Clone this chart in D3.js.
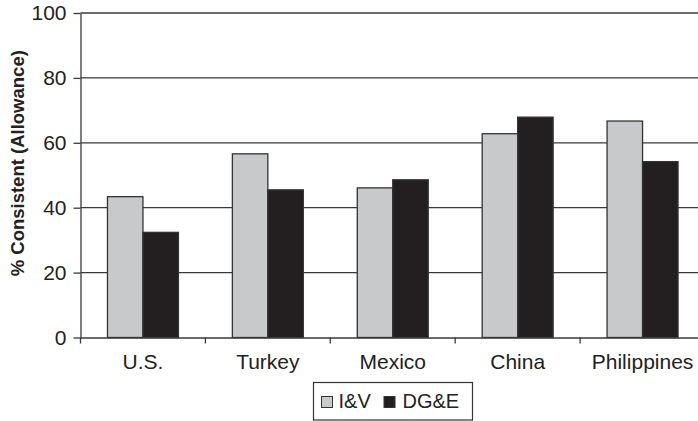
<!DOCTYPE html>
<html>
<head>
<meta charset="utf-8">
<script src="https://cdn.jsdelivr.net/npm/d3@7"></script>
<style>
  html, body { margin: 0; padding: 0; background: #fff; }
  svg { display: block; font-family: "Liberation Sans", Arial, sans-serif; }
</style>
</head>
<body>
<svg id="chart" width="698" height="421"></svg>
<script>
const categories = ["U.S.", "Turkey", "Mexico", "China", "Philippines"];
const seriesNames = ["I&V", "DG&E"];
const ivValues = [43.4, 56.6, 46.1, 62.8, 66.7];
const dgeValues = [32.4, 45.5, 48.6, 67.9, 54.2];
const yTicks = [0, 20, 40, 60, 80, 100];
const seriesColors = ["#c8c9cb", "#231f20"];
const yTitle = "% Consistent (Allowance)";

const svg = d3.select("#chart");
const mLeft = 80.5, mRight = 705, mTop = 13, mBottom = 337.5;

const x = d3.scaleBand().domain(categories).range([mLeft, mRight]).paddingInner(0).paddingOuter(0);
const inner = d3.scaleBand().domain(seriesNames).range([0, x.bandwidth()]).paddingInner(0).paddingOuter(0.76);
const y = d3.scaleLinear().domain([0, 100]).range([mBottom, mTop]);

const lineColor = "#3a3a3a";
const fontAxis = 21;

// gridlines
svg.append("g").selectAll("line").data(yTicks.filter(d => d > 0)).join("line")
  .attr("x1", mLeft).attr("x2", 698)
  .attr("y1", d => y(d)).attr("y2", d => y(d))
  .attr("stroke", lineColor).attr("stroke-width", 1.3);

// bars
const data = categories.map((c, i) => ({ c, vals: [ivValues[i], dgeValues[i]] }));
const groups = svg.append("g").selectAll("g").data(data).join("g")
  .attr("transform", d => `translate(${x(d.c)},0)`);
groups.selectAll("rect").data(d => d.vals.map((v, j) => ({ s: seriesNames[j], v, j }))).join("rect")
  .attr("x", d => inner(d.s))
  .attr("width", inner.bandwidth())
  .attr("y", d => y(d.v))
  .attr("height", d => y(0) - y(d.v))
  .attr("fill", d => seriesColors[d.j])
  .attr("stroke", "#333")
  .attr("stroke-width", 1.3);

// y axis
const yAxis = svg.append("g").attr("transform", `translate(${mLeft},0)`)
  .call(d3.axisLeft(y).tickValues(yTicks).tickSize(7).tickPadding(7).tickSizeOuter(0));
yAxis.select(".domain").attr("stroke", lineColor).attr("stroke-width", 1.3);
yAxis.selectAll(".tick line").attr("stroke", lineColor).attr("stroke-width", 1.3);
yAxis.selectAll("text").attr("font-size", fontAxis).attr("fill", "#222").attr("font-family", "Liberation Sans, Arial, sans-serif");

// x axis
const xAxis = svg.append("g").attr("transform", `translate(0,${mBottom})`)
  .call(d3.axisBottom(x).tickSize(0).tickPadding(17).tickSizeOuter(0));
xAxis.select(".domain").attr("stroke", lineColor).attr("stroke-width", 1.3);
xAxis.selectAll("text").attr("font-size", fontAxis).attr("fill", "#222").attr("font-family", "Liberation Sans, Arial, sans-serif");
// boundary ticks between categories
svg.append("g").selectAll("line").data(categories).join("line")
  .attr("x1", d => x(d)).attr("x2", d => x(d))
  .attr("y1", mBottom).attr("y2", mBottom + 6)
  .attr("stroke", lineColor).attr("stroke-width", 1.3);

// y title
svg.append("text")
  .attr("transform", `translate(24,${(mTop + mBottom) / 2 - 12}) rotate(-90)`)
  .attr("text-anchor", "middle")
  .attr("font-size", 18.5).attr("font-weight", "bold").attr("fill", "#222")
  .text(yTitle);

// legend
const legend = svg.append("g");
legend.append("rect").attr("x", 313.5).attr("y", 382.5).attr("width", 159).attr("height", 37.5)
  .attr("fill", "#fff").attr("stroke", "#333").attr("stroke-width", 1.2);
const legX = [321.5, 384];
const legTextX = [338.5, 402.5];
seriesNames.forEach((s, i) => {
  legend.append("rect").attr("x", legX[i]).attr("y", 396.5).attr("width", 11).attr("height", 11)
    .attr("fill", seriesColors[i]).attr("stroke", "#333").attr("stroke-width", 1);
  legend.append("text").attr("x", legTextX[i]).attr("y", 408).attr("font-size", 20).attr("fill", "#222").text(s);
});
</script>
</body>
</html>
